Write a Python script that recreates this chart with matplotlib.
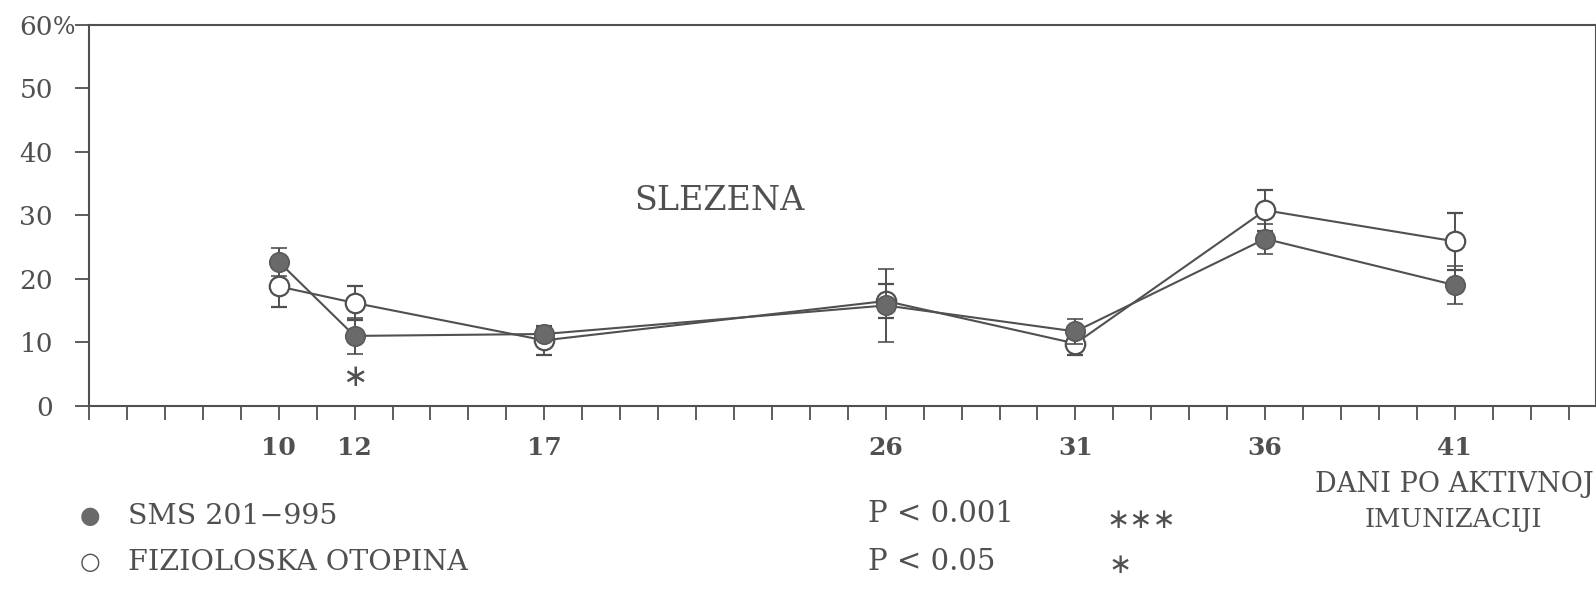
import numpy as np
import matplotlib
matplotlib.use("Agg")
import matplotlib.pyplot as plt

# values (% by day after immunization)
days = [10, 12, 17, 26, 31, 36, 41]
sms = [22.7, 11.0, 11.3, 15.8, 11.7, 26.3, 19.0]
sms_err = [2.2, 2.9, 1.0, 5.8, 2.0, 2.4, 3.0]
fiz = [18.8, 16.2, 10.3, 16.5, 9.8, 30.8, 25.9]
fiz_err = [3.3, 2.7, 2.3, 2.7, 1.8, 3.2, 4.5]
yticks = [0, 10, 20, 30, 40, 50, 60]
ytick_labels = ["0", "10", "20", "30", "40", "50", "60"]

W, H = 1596, 601
ink = "#505050"
plt.rcParams["font.family"] = ["DejaVu Serif"]

fig = plt.figure(figsize=(W / 100, H / 100), dpi=100)
fig.patch.set_facecolor("white")
ax = fig.add_axes([89 / W, 1 - 405.7 / H, (W - 89) / W, (405.7 - 25) / H])

# open circles first, filled ones drawn on top
ax.errorbar(days, fiz, yerr=fiz_err, fmt="-o", color=ink, lw=1.5,
            mfc="white", mec=ink, mew=1.6, ms=14, capsize=6, capthick=1.4,
            elinewidth=1.4, zorder=3)
ax.errorbar(days, sms, yerr=sms_err, fmt="-o", color=ink, lw=1.5,
            mfc="#6a6a6a", mec="#5a5a5a", mew=1.2, ms=14, capsize=6,
            capthick=1.4, elinewidth=1.4, zorder=4)

ax.set_xlim(5, 5 + (W - 89) / 37.94)
ax.set_ylim(0, 60)
ax.set_xticks(np.arange(5, 45))
ax.set_xticklabels([str(d) if d in days else "" for d in range(5, 45)],
                   fontweight="bold", fontsize=18, color=ink)
ax.set_yticks(yticks)
ax.set_yticklabels(ytick_labels, fontsize=19, color=ink)
ax.tick_params(axis="x", direction="out", length=10, width=1.3, color=ink, pad=12)
ax.tick_params(axis="y", direction="out", length=10, width=1.3, color=ink, pad=16)
for s in ax.spines.values():
    s.set_color(ink)
    s.set_linewidth(1.5)

# percent sign after the top label, same baseline
ax.annotate("%", xy=(0, 60), xycoords=("axes fraction", "data"),
            xytext=(-26, 0), textcoords="offset points",
            ha="left", va="center_baseline", fontsize=17, color=ink)

ax.text(12, 4.4, "\u2217", ha="center", va="center", fontsize=22, color=ink,
        family=["DejaVu Sans"])
ax.text(719, H - 201, "SLEZENA", transform=None, ha="center", va="center",
        fontsize=24, color=ink)


def px(x, y):
    return x / W, 1 - y / H


fig.text(*px(90, 516), "\u25cf", ha="center", va="center", fontsize=17,
         color="#6a6a6a", family=["DejaVu Sans"])
fig.text(*px(90, 562), "\u25cb", ha="center", va="center", fontsize=17,
         color=ink, family=["DejaVu Sans"])
fig.text(*px(128, 516), "SMS 201\u2212995", ha="left", va="center",
         fontsize=20.5, color=ink)
fig.text(*px(128, 562), "FIZIOLOSKA OTOPINA", ha="left", va="center",
         fontsize=20.5, color=ink)

fig.text(*px(868, 514), "P < 0.001", ha="left", va="center", fontsize=21, color=ink)
fig.text(*px(868, 562), "P < 0.05", ha="left", va="center", fontsize=21, color=ink)
fig.text(*px(1141, 520), "\u2217\u2217\u2217", ha="center", va="center",
         fontsize=20, color=ink, family=["DejaVu Sans"])
fig.text(*px(1120, 565), "\u2217", ha="center", va="center",
         fontsize=20, color=ink, family=["DejaVu Sans"])

fig.text(*px(1454, 484), "DANI PO AKTIVNOJ", ha="center", va="center",
         fontsize=19.5, color=ink)
fig.text(*px(1453, 519), "IMUNIZACIJI", ha="center", va="center",
         fontsize=18.5, color=ink)

fig.savefig("out.png", dpi=100, facecolor="white")
